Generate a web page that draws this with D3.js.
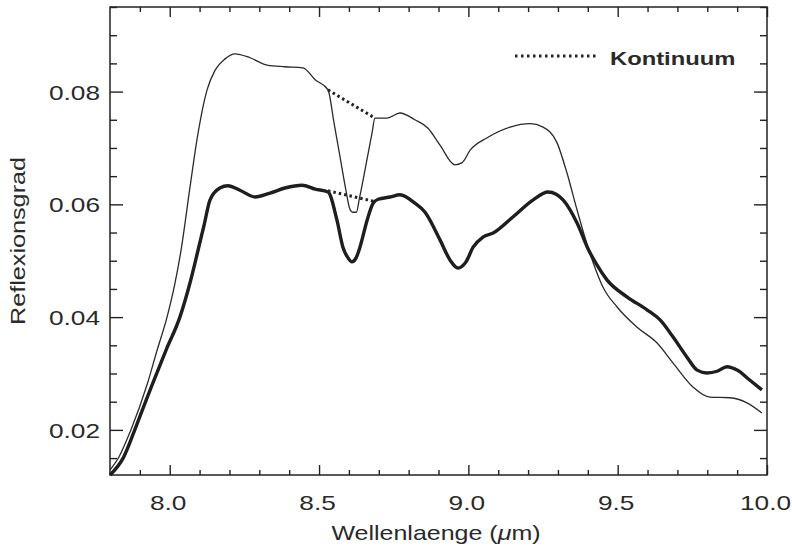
<!DOCTYPE html>
<html>
<head>
<meta charset="utf-8">
<script src="https://cdn.jsdelivr.net/npm/d3@7"></script>
<style>
  html, body { margin: 0; padding: 0; background: #fff; }
  svg { display: block; }
  text { font-family: "Liberation Sans", Arial, Helvetica, sans-serif; fill: #2a2a2a; }
</style>
</head>
<body>
<svg id="chart" width="792" height="549"></svg>
<script>
// ---------------- data ----------------
const wavelengthThin = [7.80, 7.830, 7.867, 7.924, 7.957, 7.991, 8.018, 8.038, 8.068, 8.091, 8.125, 8.152, 8.185, 8.219,
  8.269, 8.326, 8.386, 8.446, 8.487, 8.530,
  8.550, 8.570, 8.590, 8.603, 8.612, 8.625, 8.635, 8.650, 8.665, 8.678, 8.687,
  8.728, 8.771, 8.821, 8.865, 8.905, 8.955, 8.979, 9.006, 9.063, 9.140, 9.207, 9.250, 9.297, 9.330, 9.364,
  9.401, 9.431, 9.451, 9.498, 9.565, 9.632, 9.685, 9.752, 9.809, 9.876, 9.933, 9.983];
const reflectanceThin = [0.0129, 0.0152, 0.0196, 0.0280, 0.0340, 0.0400, 0.0461, 0.0519, 0.0631, 0.0714, 0.0803, 0.0838, 0.0858, 0.0867,
  0.0860, 0.0847, 0.0844, 0.0842, 0.0821, 0.0803,
  0.0745, 0.0685, 0.0625, 0.0592, 0.0586, 0.0586, 0.0610, 0.0650, 0.0692, 0.0728, 0.0753,
  0.0753, 0.0762, 0.0750, 0.0735, 0.0705, 0.0670, 0.0674, 0.0696, 0.0718, 0.0737, 0.0743, 0.0737, 0.0709, 0.0656, 0.0590,
  0.0523, 0.0478, 0.0453, 0.0418, 0.0382, 0.0354, 0.0319, 0.0276, 0.0258, 0.0257, 0.0248, 0.0230];

const wavelengthThick = [7.800, 7.844, 7.890, 7.941, 7.988, 8.034, 8.068, 8.095, 8.115, 8.135, 8.168, 8.195, 8.235, 8.286,
  8.336, 8.386, 8.443, 8.487, 8.530,
  8.560, 8.580, 8.597, 8.610, 8.624, 8.637, 8.661, 8.681, 8.698,
  8.738, 8.771, 8.821, 8.855, 8.905, 8.939, 8.965, 8.992, 9.016, 9.049, 9.083, 9.150, 9.217, 9.267, 9.294, 9.317,
  9.364, 9.401, 9.431, 9.464, 9.531, 9.598, 9.642, 9.685, 9.732, 9.766, 9.799, 9.833, 9.866, 9.900, 9.943, 9.983];
const reflectanceThick = [0.0120, 0.0150, 0.0210, 0.0280, 0.0342, 0.0400, 0.0461, 0.0519, 0.0563, 0.0608, 0.0629, 0.0633, 0.0625, 0.0613,
  0.0620, 0.0629, 0.0634, 0.0627, 0.0622,
  0.0572, 0.0524, 0.0505, 0.0498, 0.0505, 0.0524, 0.0572, 0.0602, 0.0609,
  0.0613, 0.0617, 0.0602, 0.0586, 0.0537, 0.0501, 0.0487, 0.0498, 0.0524, 0.0542, 0.0549, 0.0578, 0.0608, 0.0622, 0.0618, 0.0608,
  0.0567, 0.0521, 0.0492, 0.0466, 0.0436, 0.0413, 0.0395, 0.0365, 0.0329, 0.0306, 0.0301, 0.0304, 0.0312, 0.0306, 0.0288, 0.0271];

// continuum segments (start / end)
const continuumWavelength = [8.530, 8.687];
const continuumThin = [0.0803, 0.0753];
const continuumThick = [0.0624, 0.0605];

const xMajorTicks = [8.0, 8.5, 9.0, 9.5, 10.0];
const xMinorTicks = [7.9, 8.1, 8.2, 8.3, 8.4, 8.6, 8.7, 8.8, 8.9, 9.1, 9.2, 9.3, 9.4, 9.6, 9.7, 9.8, 9.9];
const yMajorTicks = [0.02, 0.04, 0.06, 0.08];
const yMinorTicks = [0.015, 0.025, 0.03, 0.035, 0.045, 0.05, 0.055, 0.065, 0.07, 0.075, 0.085, 0.09, 0.095];

const xLabel = "Wellenlaenge";
const yLabel = "Reflexionsgrad";
const legendLabel = "Kontinuum";

// ---------------- layout ----------------
const L = 110, R = 767, T = 7, B = 475;
const ink = "#222";

const svg = d3.select("#chart");
const x = d3.scaleLinear().domain([7.8, 10.0]).range([L, R]);
const y = d3.scaleLinear().domain([0.012, 0.095]).range([B, T]);

function stretch(sel, f) {
  sel.each(function () {
    const w = this.getComputedTextLength();
    d3.select(this).attr("textLength", w * f).attr("lengthAdjust", "spacingAndGlyphs");
  });
}

function drawAxis(axis, tx, ty) {
  const g = svg.append("g").attr("transform", `translate(${tx},${ty})`).call(axis);
  g.select(".domain").remove();
  g.selectAll(".tick line").attr("stroke", ink).attr("stroke-width", 1.4);
  return g;
}

// bottom
const gb = drawAxis(d3.axisBottom(x).tickValues(xMajorTicks).tickSize(-10).tickPadding(20).tickFormat(d3.format(".1f")), 0, B);
gb.selectAll("text").attr("font-size", 21).attr("fill", "#2a2a2a").attr("dx", -2)
  .attr("font-family", "Liberation Sans, Arial, sans-serif");
drawAxis(d3.axisBottom(x).tickValues(xMinorTicks).tickSize(-5).tickFormat(""), 0, B);
// top
drawAxis(d3.axisTop(x).tickValues(xMajorTicks).tickSize(-10).tickFormat(""), 0, T);
drawAxis(d3.axisTop(x).tickValues(xMinorTicks).tickSize(-5).tickFormat(""), 0, T);
// left
const gl = drawAxis(d3.axisLeft(y).tickValues(yMajorTicks).tickSize(-13).tickPadding(10).tickFormat(d3.format(".2f")), L, 0);
gl.selectAll("text").attr("font-size", 21).attr("fill", "#2a2a2a").attr("dy", "0.36em")
  .attr("font-family", "Liberation Sans, Arial, sans-serif");
drawAxis(d3.axisLeft(y).tickValues(yMinorTicks).tickSize(-7).tickFormat(""), L, 0);
// right
drawAxis(d3.axisRight(y).tickValues(yMajorTicks).tickSize(-13).tickFormat(""), R, 0);
drawAxis(d3.axisRight(y).tickValues(yMinorTicks).tickSize(-7).tickFormat(""), R, 0);

// frame
svg.append("rect").attr("x", L).attr("y", T).attr("width", R - L).attr("height", B - T)
  .attr("fill", "none").attr("stroke", ink).attr("stroke-width", 1.5);

// curves
const line = d3.line().x(d => x(d[0])).y(d => y(d[1])).curve(d3.curveMonotoneX);
const thin = wavelengthThin.map((w, i) => [w, reflectanceThin[i]]);
const thick = wavelengthThick.map((w, i) => [w, reflectanceThick[i]]);

svg.append("path").datum(thin).attr("d", line).attr("fill", "none")
  .attr("stroke", "#2a2a2a").attr("stroke-width", 1.3);
svg.append("path").datum(thick).attr("d", line).attr("fill", "none")
  .attr("stroke", "#1e1e1e").attr("stroke-width", 3.4).attr("stroke-linejoin", "round");

// continuum
const straight = d3.line().x(d => x(d[0])).y(d => y(d[1]));
[continuumThin, continuumThick].forEach(c => {
  svg.append("path").datum(continuumWavelength.map((w, i) => [w, c[i]])).attr("d", straight)
    .attr("fill", "none").attr("stroke", "#222").attr("stroke-width", 3)
    .attr("stroke-dasharray", "2.5,3");
});

// legend
svg.append("line").attr("x1", 515).attr("x2", 598).attr("y1", 56).attr("y2", 56)
  .attr("stroke", "#222").attr("stroke-width", 3).attr("stroke-dasharray", "2.5,3.5");
const lt = svg.append("text").attr("x", 610).attr("y", 65).attr("font-size", 19)
  .attr("font-weight", "bold").attr("fill", "#333").text(legendLabel);

// axis titles
const xt = svg.append("text").attr("x", 436).attr("y", 540).attr("text-anchor", "middle")
  .attr("font-size", 21);
xt.append("tspan").text(xLabel + " (");
xt.append("tspan").attr("font-style", "italic").text("\u03bc");
xt.append("tspan").text("m)");

const yt = svg.append("text").attr("transform", "translate(25,241) rotate(-90)")
  .attr("text-anchor", "middle").attr("font-size", 21).text(yLabel);

stretch(gb.selectAll("text"), 1.25);
stretch(gl.selectAll("text"), 1.25);
stretch(xt, 1.19);
stretch(yt, 1.2);
stretch(lt, 1.25);
</script>
</body>
</html>
